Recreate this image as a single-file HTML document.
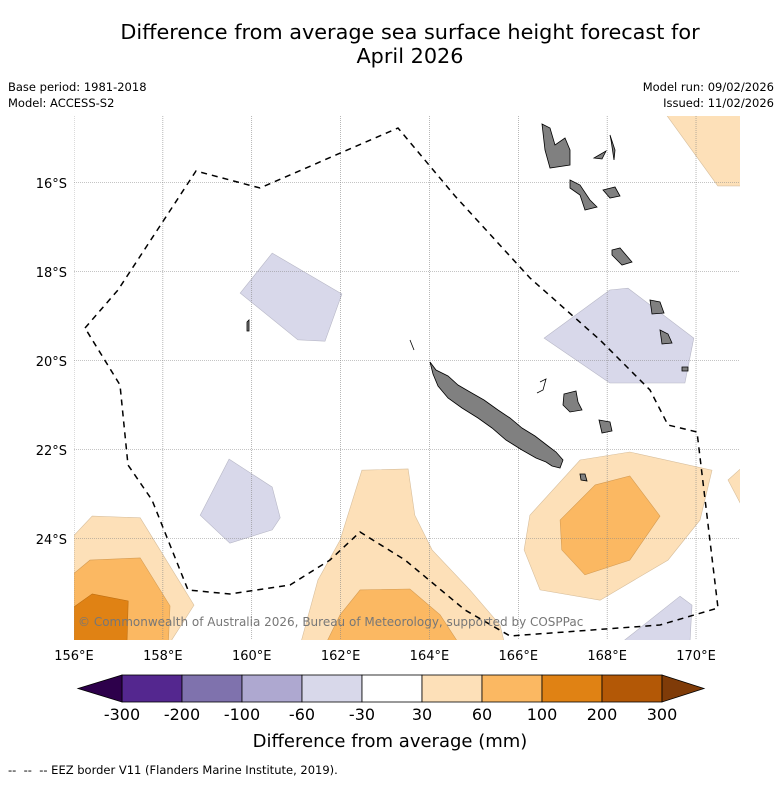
<!DOCTYPE html>
<html><head><meta charset="utf-8"><style>
body{margin:0;background:#fff;font-family:"Liberation Sans","DejaVu Sans",sans-serif}
svg text{font-family:"DejaVu Sans","Liberation Sans",sans-serif}
</style></head><body>
<svg id="chart" width="781" height="781" viewBox="0 0 781 781" xmlns="http://www.w3.org/2000/svg">
<rect width="781" height="781" fill="#fff"/>
<text x="410" y="39" font-size="20.8" text-anchor="middle">Difference from average sea surface height forecast for</text>
<text x="410" y="63" font-size="20.8" text-anchor="middle">April 2026</text>
<text x="8" y="91" font-size="11.5">Base period: 1981-2018</text>
<text x="8" y="107" font-size="11.5">Model: ACCESS-S2</text>
<text x="774" y="91" font-size="11.5" text-anchor="end">Model run: 09/02/2026</text>
<text x="774" y="107" font-size="11.5" text-anchor="end">Issued: 11/02/2026</text>
<defs><clipPath id="mapclip"><rect x="74" y="116" width="666" height="524"/></clipPath></defs>
<g id="map" clip-path="url(#mapclip)">
<g id="contours"></g>
<g id="grid"></g>
<g fill="#808080" stroke="#000" stroke-width="0.8">
<polygon points="430,362 436,370 448,376 458,385 470,392 484,400 498,410 510,418 522,428 535,436 548,446 556,452 563,460 560,468 552,466 546,462 536,458 522,450 506,440 492,428 478,418 462,408 448,398 438,386 433,374"/>
<polygon points="542,124 550,128 555,145 565,138 570,150 570,165 550,168 545,150"/>
<polygon points="570,180 580,185 590,200 597,207 585,210 580,195 570,188"/>
<polygon points="612,250 620,248 632,262 622,265 612,255"/>
<polygon points="610,135 615,150 614,160 611,140"/>
<polygon points="594,158 606,151 602,159"/>
<polygon points="603,190 615,187 620,196 610,198"/>
<polygon points="650,300 660,302 664,313 652,314"/>
<polygon points="660,330 668,334 672,343 662,344"/>
<polygon points="564,394 576,391 578,402 582,410 570,412 563,405"/>
<polygon points="599,420 610,422 612,431 602,433"/>
<polygon points="682,367 688,367 688,371 682,371"/>
<polygon points="580,474 585,474 587,481 581,480"/>
<polygon points="247,322 249,320 249,331 247,331"/>
<path d="M540,382 L546,379 L543,390 L537,393" fill="none"/>
<path d="M410,340 L414,350" fill="none"/>
</g>
<path d="M85,328 L118,290 L196,171 L260,188 L398,128 L455,196 L530,278 L600,340 L650,390 L668,425 L697,432 L718,608 L660,625 L510,636 L465,610 L405,560 L360,532 L330,560 L290,585 L230,594 L188,590 L152,500 L128,465 L120,385 Z" fill="none" stroke="#000" stroke-width="1.5" stroke-dasharray="6,5"/>
<text x="78" y="626" font-size="12" fill="#777">© Commonwealth of Australia 2026, Bureau of Meteorology, supported by COSPPac</text>
</g>
<g id="axes"></g>
<g id="colorbar"></g>
<text x="390" y="747" font-size="18" text-anchor="middle">Difference from average (mm)</text>
<text x="8" y="774" font-size="11.5" xml:space="preserve">--  --  -- EEZ border V11 (Flanders Marine Institute, 2019).</text>
</svg>
<script>
const lonTicks=[156,158,160,162,164,166,168,170];
const latTicks=[16,18,20,22,24];
const levels=[-300,-200,-100,-60,-30,30,60,100,200,300];
const levelColors=["#54278f","#7f72ad","#aea8d0","#d8d8ea","#ffffff","#fde0b8","#fbb862","#e08214","#b35806"];
const contourValues=[-45,-45,-45,-45,45,45,80,150,45,80,45,80,45,45];
const contourShapes=[
 [[160.46,-17.58],[162.03,-18.50],[161.65,-19.56],[161.04,-19.53],[159.74,-18.48]],
 [[159.49,-22.21],[160.46,-22.84],[160.64,-23.53],[160.46,-23.80],[159.51,-24.10],[158.84,-23.47]],
 [[166.58,-19.49],[168.06,-18.41],[168.47,-18.37],[169.95,-19.49],[169.75,-20.50],[168.06,-20.50]],
 [[168.24,-26.4],[169.64,-25.29],[169.91,-25.49],[169.86,-26.4]],
 [[169.28,-14.4],[171.1,-14.4],[171.1,-16.07],[170.49,-16.07]],
 [[155.9,-24.03],[156.41,-23.49],[157.49,-23.53],[158.70,-25.49],[158.12,-26.4],[155.9,-26.4]],
 [[155.9,-24.86],[156.36,-24.48],[157.49,-24.43],[158.16,-25.51],[158.12,-26.4],[155.9,-26.4]],
 [[155.9,-25.60],[156.41,-25.24],[157.22,-25.40],[157.19,-26.4],[155.9,-26.4]],
 [[162.48,-22.46],[163.52,-22.43],[163.67,-23.47],[164.06,-24.25],[164.91,-25.15],[165.59,-25.94],[165.70,-26.4],[161.09,-26.4],[161.49,-24.93],[161.99,-24.03]],
 [[162.44,-25.15],[163.56,-25.13],[164.24,-25.71],[164.69,-26.4],[161.65,-26.4],[161.99,-25.71]],
 [[166.26,-23.47],[167.39,-22.23],[168.51,-22.05],[170.36,-22.46],[170.09,-23.58],[169.37,-24.48],[167.84,-25.38],[166.49,-25.15],[166.13,-24.25]],
 [[166.94,-23.58],[167.73,-22.79],[168.51,-22.59],[169.19,-23.49],[168.51,-24.48],[167.50,-24.81],[166.98,-24.25]],
 [[170.72,-22.68],[171.1,-22.34],[171.1,-23.40]],
 [[170.9,-26.5],[171.0,-26.5],[171.0,-26.4]]
];
const NS="http://www.w3.org/2000/svg";
const xLon=lon=>74+(lon-156)*44.43;
const yLat=lat=>116+(-lat-14.5)*44.5;
function colorFor(v){for(let i=0;i<levels.length-1;i++){if(v>=levels[i]&&v<levels[i+1])return levelColors[i];}return levelColors[levelColors.length-1];}
function darker(c){const n=parseInt(c.slice(1),16);const r=(n>>16)*0.85|0,g=((n>>8)&255)*0.85|0,b=(n&255)*0.85|0;return `rgb(${r},${g},${b})`;}
const cg=document.getElementById('contours');
contourShapes.forEach((shape,i)=>{
 const p=document.createElementNS(NS,'polygon');
 p.setAttribute('points',shape.map(q=>xLon(q[0]).toFixed(1)+','+yLat(q[1]).toFixed(1)).join(' '));
 const c=colorFor(contourValues[i]);
 p.setAttribute('fill',c);p.setAttribute('stroke',darker(c));p.setAttribute('stroke-width','0.6');
 
 
 cg.appendChild(p);
});
const gg=document.getElementById('grid'),ax=document.getElementById('axes');
lonTicks.forEach(l=>{
 const x=xLon(l);
 const ln=document.createElementNS(NS,'line');
 ln.setAttribute('x1',x);ln.setAttribute('x2',x);ln.setAttribute('y1',116);ln.setAttribute('y2',640);
 ln.setAttribute('stroke','#888');ln.setAttribute('stroke-width','0.6');ln.setAttribute('stroke-dasharray','1,1');
 
 
 gg.appendChild(ln);
 const t=document.createElementNS(NS,'text');
 t.setAttribute('x',x);t.setAttribute('y',660);t.setAttribute('font-size','13');t.setAttribute('text-anchor','middle');
 t.textContent=l+'°E';
 
 
 ax.appendChild(t);
});
latTicks.forEach(l=>{
 const y=yLat(-l);
 const ln=document.createElementNS(NS,'line');
 ln.setAttribute('x1',74);ln.setAttribute('x2',740);ln.setAttribute('y1',y);ln.setAttribute('y2',y);
 ln.setAttribute('stroke','#888');ln.setAttribute('stroke-width','0.6');ln.setAttribute('stroke-dasharray','1,1');
 
 
 gg.appendChild(ln);
 const t=document.createElementNS(NS,'text');
 t.setAttribute('x',67);t.setAttribute('y',y+5);t.setAttribute('font-size','13');t.setAttribute('text-anchor','end');
 t.textContent=l+'°S';
 
 
 ax.appendChild(t);
});
const cb=document.getElementById('colorbar');
const cbX=122,cbW=60,cbY=675,cbH=27;
levelColors.forEach((c,i)=>{
 const r=document.createElementNS(NS,'rect');
 r.setAttribute('x',cbX+i*cbW);r.setAttribute('y',cbY);r.setAttribute('width',cbW);r.setAttribute('height',cbH);
 r.setAttribute('fill',c);r.setAttribute('stroke','#000');r.setAttribute('stroke-width','0.8');
 
 
 cb.appendChild(r);
});
const triL=document.createElementNS(NS,'polygon');
triL.setAttribute('points',`${cbX},${cbY} 78,${cbY+cbH/2} ${cbX},${cbY+cbH}`);
triL.setAttribute('fill','#2d004b');triL.setAttribute('stroke','#000');triL.setAttribute('stroke-width','0.8');


cb.appendChild(triL);
const endX=cbX+levelColors.length*cbW;
const triR=document.createElementNS(NS,'polygon');
triR.setAttribute('points',`${endX},${cbY} 704,${cbY+cbH/2} ${endX},${cbY+cbH}`);
triR.setAttribute('fill','#7f3b08');triR.setAttribute('stroke','#000');triR.setAttribute('stroke-width','0.8');


cb.appendChild(triR);
levels.forEach((v,i)=>{
 const t=document.createElementNS(NS,'text');
 t.setAttribute('x',cbX+i*cbW);t.setAttribute('y',720);t.setAttribute('font-size','16');t.setAttribute('text-anchor','middle');
 t.textContent=v;
 
 
 cb.appendChild(t);
});
</script>
</body></html>
